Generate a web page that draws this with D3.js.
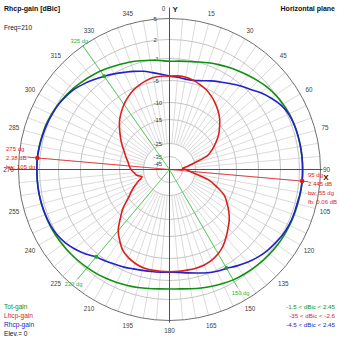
<!DOCTYPE html>
<html><head><meta charset="utf-8">
<script src="https://cdn.jsdelivr.net/npm/d3@7"></script>
<style>
html,body{margin:0;padding:0;background:#fff;}
svg{display:block;}
text{font-family:"Liberation Sans",Arial,sans-serif;}
</style></head><body>
<svg id="chart" width="339" height="339"></svg>
<script>
// ---- data ----
const angles = d3.range(0, 360, 5);
const totGain = [-1.5,-1.4,-1.25,-0.95,-0.6,-0.25,0.1,0.45,0.85,1.25,1.65,1.95,2.15,2.3,2.37,2.41,2.43,2.44,
  2.445,2.445,2.43,2.4,2.37,2.35,2.3,2.25,2.15,2.05,1.9,1.75,1.6,1.35,1.1,0.85,0.6,0.4,
  0.35,0.4,0.55,0.75,0.95,1.15,1.35,1.55,1.7,1.85,2.0,2.1,2.2,2.28,2.33,2.37,2.38,2.38,
  2.38,2.38,2.33,2.27,2.2,2.05,1.85,1.6,1.35,1.05,0.75,0.45,0.1,-0.2,-0.45,-0.75,-1.0,-1.3];
const rhcpGain = [-4.2,-4.35,-4.5,-4.4,-4.0,-3.4,-2.8,-2.1,-1.3,-0.6,0.3,1.1,1.8,2.2,2.35,2.4,2.42,2.44,
  2.445,2.445,2.4,2.3,2.3,2.25,2.1,1.8,1.5,1.1,0.6,0.05,-0.5,-0.8,-1.2,-1.7,-2.1,-2.4,
  -2.5,-2.45,-2.35,-2.2,-1.95,-1.6,-1.3,-0.9,-0.5,0.3,1.0,1.6,2.0,2.2,2.3,2.35,2.38,2.38,
  2.38,2.38,2.3,2.2,2.1,1.95,1.8,1.5,1.15,0.6,0.0,-0.55,-1.1,-1.7,-2.2,-2.7,-3.3,-3.8];
const lhcpGain = [-4.2,-4.1,-4.15,-4.4,-4.8,-5.3,-6.1,-7.0,-8.0,-9.1,-10.5,-12.1,-14.0,-16.2,-19.0,-25.0,-30.8,-35.0,
  -32.5,-29.5,-24.5,-18.8,-15.0,-12.0,-10.2,-8.8,-7.5,-6.4,-5.2,-4.2,-3.5,-3.0,-2.7,-2.6,-2.6,-2.6,
  -2.6,-2.6,-2.6,-2.7,-3.0,-3.5,-4.2,-5.5,-7.1,-9.4,-11.8,-14.8,-17.5,-20.0,-22.3,-24.0,-22.0,-21.0,
  -19.8,-19.0,-18.3,-17.2,-16.0,-14.6,-13.3,-12.0,-10.5,-9.2,-8.2,-7.2,-6.3,-5.5,-4.9,-4.5,-4.2,-4.15];
const ringValues = [2,-1,-5,-10,-15,-25,-35];
const ringLabelValues = [5,2,-1,-5,-10,-15,-25,-35,-45];
const ringLabels = ["5","2","-1","-5","-10","-15","-25","-35","-45"];
const angleTicks = d3.range(0, 360, 15);
const spokeAngles = d3.range(0, 360, 5);
const bwAngles = [325,220,150];
const bwLabels = ["325 dg","220 dg","150 dg"];
const bwLineEnd = [5.3,3.9,2.9];
const bwDotGain = -0.555;
const peakAngles = [275,95];
const peakGains = [2.38,2.445];
const peakTextLeft = ["275 dg","2.38 dB","bw: 105 dg"];
const peakTextRight = ["95 dg","2.445 dB","bw: 55 dg","fb: 0.06 dB"];
const legendNames = ["Tot-gain","Lhcp-gain","Rhcp-gain"];
const legendRanges = ["-1.5 < dBic < 2.45","-35 < dBic < -2.6","-4.5 < dBic < 2.45"];
const title = "Rhcp-gain [dBic]", freqText = "Freq=210", planeText = "Horizontal plane", elevText = "Elev.= 0";

// ---- drawing ----
const GREEN = "#109010", RED = "#dc1e1e", BLUE = "#2222c8", LGREEN = "#4cc84c";
const svg = d3.select("#chart");
svg.append("rect").attr("width",339).attr("height",339).attr("fill","#fff");
const cx = 169.5, cy = 169.5;
const r = d3.scaleLinear()
  .domain([-45,-35,-25,-15,-10,-5,-1,2,5])
  .range([6,13,26,50,67,89,111,130,151]).clamp(true);
const rad = d => d * Math.PI / 180;
const px = (a, rr) => cx + rr * Math.sin(rad(a));
const py = (a, rr) => cy - rr * Math.cos(rad(a));

const g = svg.append("g");
// spokes
g.selectAll("line.spoke").data(spokeAngles).join("line")
  .attr("x1", a => px(a, r(-25))).attr("y1", a => py(a, r(-25)))
  .attr("x2", a => px(a, r(5))).attr("y2", a => py(a, r(5)))
  .attr("stroke", "#d2d2d2").attr("stroke-width", 0.8);
// rings
g.selectAll("circle.ring").data(ringValues).join("circle")
  .attr("cx", cx).attr("cy", cy).attr("r", v => r(v))
  .attr("fill", "none").attr("stroke", "#bdbdbd").attr("stroke-width", 0.9);
g.append("circle").attr("cx", cx).attr("cy", cy).attr("r", r(5))
  .attr("fill", "none").attr("stroke", "#707070").attr("stroke-width", 1);
// axes
g.append("line").attr("x1", cx).attr("x2", cx).attr("y1", cy - 162).attr("y2", cy + r(5) + 2)
  .attr("stroke", "#505050").attr("stroke-width", 1);
g.append("line").attr("x1", cx - 160).attr("x2", cx + 153).attr("y1", cy).attr("y2", cy)
  .attr("stroke", "#505050").attr("stroke-width", 1);

// angle labels
g.selectAll("text.ang").data(angleTicks).join("text")
  .attr("x", a => px(a, a === 90 ? 157 : 161) + (a === 0 ? -6 : 0))
  .attr("y", a => py(a, a === 90 ? 157 : 161))
  .attr("text-anchor", "middle").attr("dominant-baseline", "central")
  .attr("font-size", 6.3).attr("fill", "#404040").text(a => a);
svg.append("text").attr("x", cx + 3).attr("y", 9.5).attr("dominant-baseline","central")
  .attr("font-size", 8).attr("font-weight","bold").attr("fill","#222").text("Y");
svg.append("text").attr("x", 326).attr("y", 177.5).attr("text-anchor","middle").attr("dominant-baseline","central")
  .attr("font-size", 8).attr("font-weight","bold").attr("fill","#222").text("X");

// ring labels
g.selectAll("text.ring").data(ringLabelValues).join("text")
  .attr("x", cx - 16).attr("y", v => cy - r(v))
  .attr("dominant-baseline", "central").attr("font-size", 6)
  .attr("fill", "#404040").text((v, i) => ringLabels[i]);

// beamwidth lines
bwAngles.forEach((a, i) => {
  g.append("line").attr("x1", cx).attr("y1", cy)
    .attr("x2", px(a, r(bwLineEnd[i]))).attr("y2", py(a, r(bwLineEnd[i])))
    .attr("stroke", LGREEN).attr("stroke-width", 0.9);
  g.append("text").attr("x", px(a, r(bwLineEnd[i]) + 6)).attr("y", py(a, r(bwLineEnd[i]) + 6))
    .attr("text-anchor","middle").attr("dominant-baseline","central")
    .attr("font-size", 5.8).attr("fill", "#30b030").text(bwLabels[i]);
});
// peak marker line
g.append("line")
  .attr("x1", px(peakAngles[0], r(peakGains[0]) + 10)).attr("y1", py(peakAngles[0], r(peakGains[0]) + 10))
  .attr("x2", px(peakAngles[1], r(peakGains[1]) + 6)).attr("y2", py(peakAngles[1], r(peakGains[1]) + 6))
  .attr("stroke", RED).attr("stroke-width", 0.8);

// curves
const line = d3.lineRadial()
  .angle(d => rad(d[0])).radius(d => r(d[1]))
  .curve(d3.curveCatmullRomClosed.alpha(0.5));
const curves = g.append("g").attr("transform", `translate(${cx},${cy})`);
[[totGain, GREEN], [rhcpGain, BLUE], [lhcpGain, RED]].forEach(([vals, col]) => {
  curves.append("path").attr("d", line(angles.map((a, i) => [a, vals[i]])))
    .attr("fill", "none").attr("stroke", col).attr("stroke-width", 1.6);
});

// dots
bwAngles.forEach(a => {
  g.append("circle").attr("cx", px(a, r(bwDotGain))).attr("cy", py(a, r(bwDotGain)))
    .attr("r", 2).attr("fill", "#20a020");
});
peakAngles.forEach((a, i) => {
  g.append("circle").attr("cx", px(a, r(peakGains[i]))).attr("cy", py(a, r(peakGains[i])))
    .attr("r", 2.3).attr("fill", RED);
});
// peak texts
peakTextLeft.forEach((t, i) => {
  svg.append("text").attr("x", 6).attr("y", 148.5 + i * 9).attr("dominant-baseline","central")
    .attr("font-size", 6).attr("fill", RED).text(t);
});
peakTextRight.forEach((t, i) => {
  svg.append("text").attr("x", 308).attr("y", 174.5 + i * 9.2).attr("dominant-baseline","central")
    .attr("font-size", 6).attr("fill", RED).text(t);
});

// titles
svg.append("text").attr("x", 4).attr("y", 8.5).attr("dominant-baseline","central")
  .attr("font-size", 7).attr("font-weight","bold").attr("fill","#111").text(title);
svg.append("text").attr("x", 4).attr("y", 27.5).attr("dominant-baseline","central")
  .attr("font-size", 6.5).attr("fill","#111").text(freqText);
svg.append("text").attr("x", 335).attr("y", 8.5).attr("text-anchor","end").attr("dominant-baseline","central")
  .attr("font-size", 7).attr("font-weight","bold").attr("fill","#111").text(planeText);
// legends
const legCols = [GREEN, RED, BLUE];
legendNames.forEach((t, i) => {
  svg.append("text").attr("x", 4).attr("y", 306 + i * 9.2).attr("dominant-baseline","central")
    .attr("font-size", 6.6).attr("fill", legCols[i]).text(t);
  svg.append("text").attr("x", 335).attr("y", 306 + i * 9.2).attr("text-anchor","end").attr("dominant-baseline","central")
    .attr("font-size", 6.2).attr("fill", legCols[i]).text(legendRanges[i]);
});
svg.append("text").attr("x", 4).attr("y", 333.5).attr("dominant-baseline","central")
  .attr("font-size", 6.6).attr("fill","#111").text(elevText);
</script>
</body></html>
